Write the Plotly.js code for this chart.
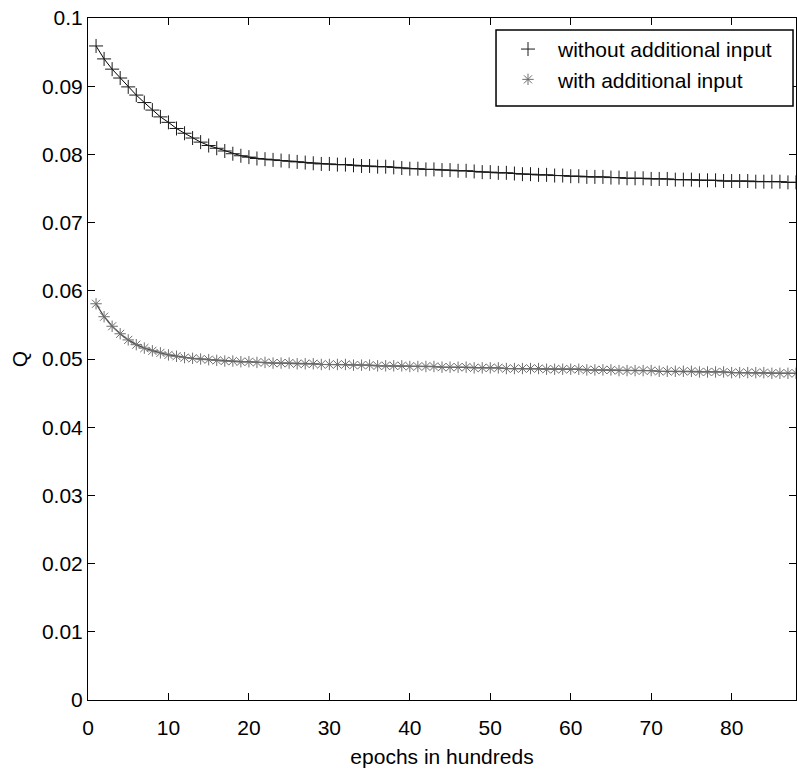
<!DOCTYPE html>
<html>
<head>
<meta charset="utf-8">
<script src="https://cdn.plot.ly/plotly-3.0.1.min.js"></script>
<style>html,body{margin:0;padding:0;background:#fff;}#chart{width:797px;height:773px;}</style>
</head>
<body>
<div id="chart"></div>
<script>
const epochs = [1,2,3,4,5,6,7,8,9,10,11,12,13,14,15,16,17,18,19,20,21,22,23,24,25,26,27,28,29,30,
  31,32,33,34,35,36,37,38,39,40,41,42,43,44,45,46,47,48,49,50,51,52,53,54,55,56,57,58,59,60,
  61,62,63,64,65,66,67,68,69,70,71,72,73,74,75,76,77,78,79,80,81,82,83,84,85,86,87,88];

const withoutInput = [0.0959,0.0940,0.0925,0.0912,0.0899,0.0887,0.0876,0.0865,0.0855,0.0847,
  0.0838,0.0831,0.0824,0.0818,0.0813,0.0809,0.0805,0.0801,0.0798,0.0796,
  0.0794,0.0793,0.0792,0.0791,0.0790,0.0789,0.0788,0.0787,0.0786,0.0786,
  0.0785,0.0785,0.0784,0.0783,0.0783,0.0782,0.0782,0.0781,0.0780,0.0779,
  0.0779,0.0778,0.0778,0.0777,0.0777,0.0776,0.0776,0.0775,0.0774,0.0774,
  0.0773,0.0773,0.0772,0.0771,0.0771,0.0770,0.0770,0.0769,0.0769,0.0768,
  0.0768,0.0767,0.0767,0.0767,0.0766,0.0766,0.0765,0.0765,0.0765,0.0764,
  0.0764,0.0764,0.0763,0.0763,0.0763,0.0762,0.0762,0.0762,0.0761,0.0761,
  0.0761,0.0761,0.0760,0.0760,0.0760,0.0760,0.0759,0.0759];

const withInput = [0.0581,0.0562,0.0548,0.0537,0.0528,0.0521,0.0516,0.0512,0.0509,0.0506,
  0.0504,0.0502,0.0501,0.0500,0.0499,0.0498,0.0497,0.0497,0.0496,0.0496,
  0.0495,0.0495,0.0494,0.0494,0.0494,0.0493,0.0493,0.0493,0.0492,0.0492,
  0.0492,0.0492,0.0491,0.0491,0.0491,0.0490,0.0490,0.0490,0.0490,0.0489,
  0.0489,0.0489,0.0489,0.0488,0.0488,0.0488,0.0488,0.0487,0.0487,0.0487,
  0.0487,0.0486,0.0486,0.0486,0.0486,0.0486,0.0485,0.0485,0.0485,0.0485,
  0.0485,0.0484,0.0484,0.0484,0.0484,0.0483,0.0483,0.0483,0.0483,0.0483,
  0.0482,0.0482,0.0482,0.0482,0.0482,0.0481,0.0481,0.0481,0.0481,0.0480,
  0.0480,0.0480,0.0480,0.0480,0.0479,0.0479,0.0479,0.0479];

const seriesNames = ['without additional input', 'with additional input'];
const xTicks = [0,10,20,30,40,50,60,70,80];
const yTicks = [0,0.01,0.02,0.03,0.04,0.05,0.06,0.07,0.08,0.09,0.1];
const yTickText = ['0','0.01','0.02','0.03','0.04','0.05','0.06','0.07','0.08','0.09','0.1'];

const font = {family: 'Liberation Sans, Arial, sans-serif', size: 21, color: '#000'};

const m1 = {symbol: 'cross-thin-open', size: 10, color: '#1a1a1a', line: {color: '#1a1a1a', width: 1}};
const m2 = {symbol: 'asterisk-open', size: 9.5, color: '#6e6e6e', line: {color: '#6e6e6e', width: 1}};

const traces = [
  {x: epochs, y: withoutInput, type: 'scatter', mode: 'lines', showlegend: false,
   line: {color: '#000', width: 1}},
  {x: epochs, y: withoutInput, name: seriesNames[0], type: 'scatter', mode: 'markers', marker: m1},
  {x: epochs, y: withInput, type: 'scatter', mode: 'lines', showlegend: false,
   line: {color: '#454545', width: 1.3}},
  {x: epochs, y: withInput, name: seriesNames[1], type: 'scatter', mode: 'markers', marker: m2}
];

const layout = {
  width: 797, height: 773,
  margin: {l: 88, r: 1, t: 18, b: 73, pad: 0},
  paper_bgcolor: '#fff', plot_bgcolor: '#fff',
  font: font,
  showlegend: true,
  legend: {
    x: 0.5791, xanchor: 'left', y: 0.984, yanchor: 'top',
    bgcolor: 'rgba(0,0,0,0)', borderwidth: 0,
    font: font, itemwidth: 50
  },
  shapes: [{
    type: 'rect', xref: 'paper', yref: 'paper', layer: 'above',
    x0: 0.5763, x1: 0.9958, y0: 0.8710, y1: 0.9824,
    line: {color: '#000', width: 1.5}, fillcolor: '#fff'
  }],
  xaxis: {
    range: [0, 88], tickvals: xTicks, ticktext: xTicks.map(String),
    ticks: 'inside', ticklen: 7, tickwidth: 1, tickcolor: '#000',
    showline: true, linecolor: '#000', linewidth: 1, mirror: 'ticks',
    showgrid: false, zeroline: false, tickfont: font,
    ticklabelstandoff: 9,
    title: {text: 'epochs in hundreds', font: font, standoff: 11}
  },
  yaxis: {
    range: [0, 0.1], tickvals: yTicks, ticktext: yTickText,
    ticks: 'inside', ticklen: 7, tickwidth: 1, tickcolor: '#000',
    showline: true, linecolor: '#000', linewidth: 1, mirror: 'ticks',
    showgrid: false, zeroline: false, tickfont: font,
    title: {text: 'Q', font: font, standoff: 8}
  }
};

Plotly.newPlot('chart', traces, layout, {displayModeBar: false, staticPlot: true});
</script>
</body>
</html>
